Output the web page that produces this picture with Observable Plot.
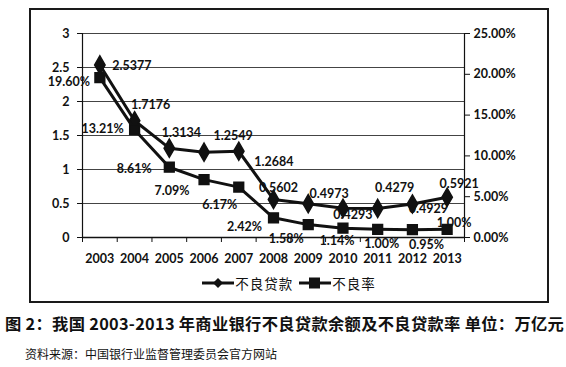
<!DOCTYPE html>
<html><head><meta charset="utf-8">
<script src="https://cdn.jsdelivr.net/npm/d3@7"></script>
<script src="https://cdn.jsdelivr.net/npm/@observablehq/plot@0.6"></script>
<style>
body{margin:0;background:#fff;width:566px;height:367px;position:relative;overflow:hidden;}
#box{position:absolute;left:29px;top:8px;width:516px;height:291px;border:2px solid #1a1a1a;}
#chart{position:absolute;left:0;top:0;}
#legend{position:absolute;left:0;top:263px;width:516px;text-align:center;font:13.5px "Noto Sans CJK SC",sans-serif;color:#111;}
#legend span.item{display:inline-flex;align-items:center;margin:0 3px;letter-spacing:1px;}
#legend svg{margin-right:1px;}
#title{position:absolute;left:5px;top:311px;font:bold 16.3px "Noto Sans CJK SC",sans-serif;letter-spacing:0.3px;color:#111;white-space:nowrap;}
#source{position:absolute;left:25px;top:345px;font:12px "Noto Sans CJK SC",sans-serif;color:#111;white-space:nowrap;}
</style></head><body>
<div id="box"><div id="chart"></div><div id="legend"></div></div>
<div id="title">图 2：我国 2003-2013 年商业银行不良贷款余额及不良贷款率 单位：万亿元</div>
<div id="source">资料来源：中国银行业监督管理委员会官方网站</div>
<script>
const years = [2003, 2004, 2005, 2006, 2007, 2008, 2009, 2010, 2011, 2012, 2013];
const nplAmount = [2.5377, 1.7176, 1.3134, 1.2549, 1.2684, 0.5602, 0.4973, 0.4293, 0.4279, 0.4929, 0.5921];
const nplRate = [19.60, 13.21, 8.61, 7.09, 6.17, 2.42, 1.58, 1.14, 1.00, 0.95, 1.00];
const leftTicks = [0, 0.5, 1, 1.5, 2, 2.5, 3];
const rightTicks = [0, 5, 10, 15, 20, 25];
const seriesNames = ["不良贷款", "不良率"];

// data-label nudges (px), as placed in the original chart
const amountLabelNudge = [[32, 1], [16, -16], [12, -15], [29, -16], [35, 11], [5, -11], [21, -10], [10, 7], [17, -20], [16, 5], [12, -13]];
const rateLabelNudge = [[-31, 4], [-32, -1], [-35, 2], [-32, 11], [-19, 18], [-29, 9], [-22, 14], [-6, 13], [4, 15], [14, 15], [7, -6]];

const leftMax = 3, rightMax = 25;
const toLeft = r => r * leftMax / rightMax;

const amountData = years.map((y, i) => ({year: y, value: nplAmount[i], label: nplAmount[i].toFixed(4), nx: amountLabelNudge[i][0], ny: amountLabelNudge[i][1]}));
const rateData = years.map((y, i) => ({year: y, value: toLeft(nplRate[i]), label: nplRate[i].toFixed(2) + "%", nx: rateLabelNudge[i][0], ny: rateLabelNudge[i][1]}));
const bounds = [years[0] - 0.5, ...years.map(y => y + 0.5)];

const font = "Lato, 'Liberation Sans', sans-serif";

const labelMarks = data => data.map(d => Plot.text([d], {x: "year", y: "value", text: "label", dx: d.nx, dy: d.ny, fontSize: 12.5, fill: "#111"}));

const chart = Plot.plot({
  width: 516, height: 260,
  marginLeft: 51, marginRight: 83, marginTop: 23, marginBottom: 33,
  style: {fontFamily: font, fontSize: "12px", fontWeight: "bold", color: "#111", background: "transparent"},
  x: {type: "linear", domain: [bounds[0], bounds[bounds.length - 1]]},
  y: {domain: [0, leftMax]},
  marks: [
    Plot.ruleY(leftTicks.slice(1), {stroke: "#444", strokeWidth: 1}),
    Plot.ruleY([0], {stroke: "#111", strokeWidth: 1.5}),
    Plot.ruleX([bounds[0], bounds[bounds.length - 1]], {stroke: "#111", strokeWidth: 1.2}),
    Plot.axisY({ticks: leftTicks, tickSize: 5, tickPadding: 8, label: null, fontSize: 12.5, tickFormat: d => String(d)}),
    Plot.axisY({anchor: "right", ticks: rightTicks.map(toLeft), tickSize: 5, tickPadding: 4, label: null, fontSize: 12.5,
      tickFormat: d => (d * rightMax / leftMax).toFixed(2) + "%"}),
    Plot.axisX({ticks: bounds, tickSize: 5, tickFormat: () => "", label: null}),
    Plot.axisX({ticks: years, tickSize: 0, tickPadding: 17, tickFormat: d => String(d), label: null, fontSize: 12.5}),
    Plot.line(amountData, {x: "year", y: "value", stroke: "#111", strokeWidth: 3}),
    Plot.dot(amountData, {x: "year", y: "value", symbol: "diamond", r: 5.5, fill: "#111", stroke: "#111"}),
    Plot.line(rateData, {x: "year", y: "value", stroke: "#111", strokeWidth: 3}),
    Plot.dot(rateData, {x: "year", y: "value", symbol: "square", r: 5.5, fill: "#111", stroke: "#111"}),
    ...labelMarks(amountData),
    ...labelMarks(rateData)
  ]
});
document.getElementById("chart").appendChild(chart);

const legend = document.getElementById("legend");
const symbols = [
  '<path d="M16 1 L21 6 L16 11 L11 6 Z" fill="#111"/>',
  '<rect x="10" y="0.5" width="11" height="11" fill="#111"/>'
];
seriesNames.forEach((name, i) => {
  const item = document.createElement("span");
  item.className = "item";
  item.innerHTML = `<svg width="32" height="12"><line x1="0" y1="6" x2="32" y2="6" stroke="#111" stroke-width="3"/>${symbols[i]}</svg>${name}`;
  legend.appendChild(item);
});
</script>
</body></html>
